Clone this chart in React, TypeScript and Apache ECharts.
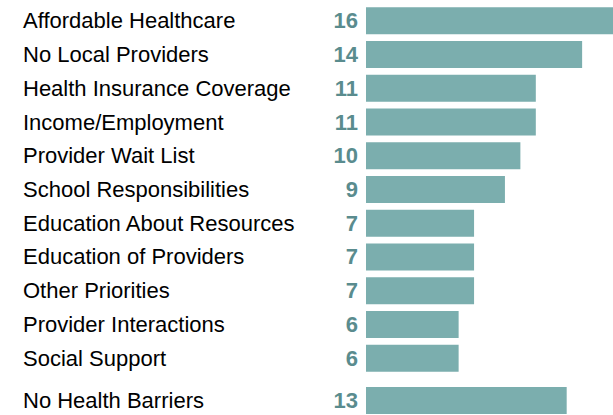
import React, { useEffect, useRef } from "react";
import * as echarts from "echarts";

const categories = [
  "Affordable Healthcare",
  "No Local Providers",
  "Health Insurance Coverage",
  "Income/Employment",
  "Provider Wait List",
  "School Responsibilities",
  "Education About Resources",
  "Education of Providers",
  "Other Priorities",
  "Provider Interactions",
  "Social Support",
];
const values = [16, 14, 11, 11, 10, 9, 7, 7, 7, 6, 6];
const extraCategories = ["No Health Barriers"];
const extraValues = [13];

const BAR = "#7BAEAE";
const VAL = "#5A8C8E";
const FONT = "'Liberation Sans', Arial, sans-serif";

export default function App() {
  const ref = useRef<HTMLDivElement>(null);
  useEffect(() => {
    if (!ref.current) return;
    const chart = echarts.init(ref.current, undefined, { renderer: "svg" });
    const yAxisBase = (data: string[], gridIndex: number) => ({
      type: "category" as const,
      gridIndex,
      data,
      inverse: true,
      axisLine: { show: false },
      axisTick: { show: false },
      splitLine: { show: false },
      axisLabel: {
        align: "left" as const,
        margin: 343,
        fontSize: 22,
        fontFamily: FONT,
        color: "#000",
      },
    });
    const xAxisBase = (gridIndex: number) => ({
      type: "value" as const,
      gridIndex,
      min: 0,
      max: 16,
      show: false,
    });
    const seriesBase = (data: number[], idx: number) => ({
      type: "bar" as const,
      xAxisIndex: idx,
      yAxisIndex: idx,
      data,
      barWidth: 27,
      itemStyle: { color: BAR },
      label: {
        show: true,
        position: "left" as const,
        distance: 8,
        fontSize: 22,
        fontWeight: "bold" as const,
        fontFamily: FONT,
        color: VAL,
      },
    });
    chart.setOption({
      animation: false,
      grid: [
        { left: 366, width: 250, top: 4, height: 371 },
        { left: 366, width: 250, top: 386, height: 34 },
      ],
      xAxis: [xAxisBase(0), xAxisBase(1)],
      yAxis: [yAxisBase(categories, 0), yAxisBase(extraCategories, 1)],
      series: [seriesBase(values, 0), seriesBase(extraValues, 1)],
    });
    return () => chart.dispose();
  }, []);
  return (
    <div
      ref={ref}
      style={{ position: "fixed", left: 0, top: 0, width: 613, height: 415, background: "#fff" }}
    />
  );
}
